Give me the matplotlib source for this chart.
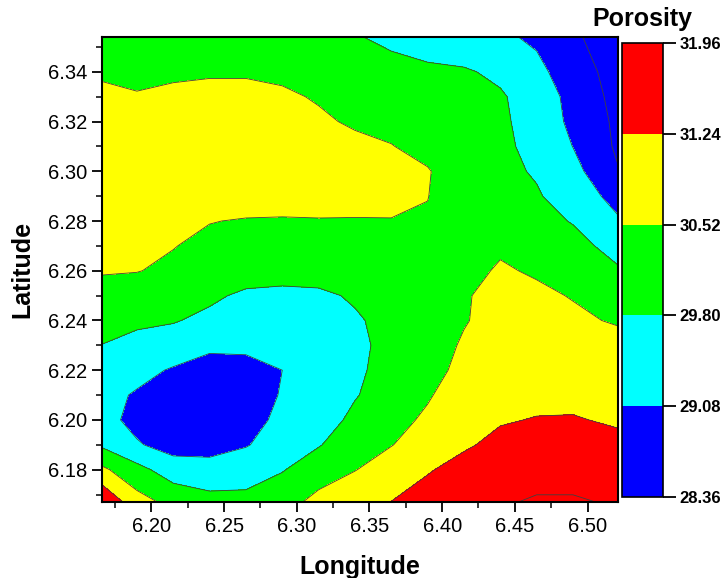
import numpy as np
import matplotlib
matplotlib.use("Agg")
from matplotlib import pyplot as plt
from matplotlib.colors import ListedColormap, BoundaryNorm
import matplotlib.cm as cm

plt.rcParams['font.family'] = ['Liberation Sans', 'DejaVu Sans']

# grid
lon = [6.166, 6.19, 6.215, 6.24, 6.265, 6.29, 6.315, 6.34, 6.365, 6.39, 6.415, 6.44, 6.465, 6.49, 6.521]
lat = [6.167, 6.18, 6.19, 6.20, 6.21, 6.22, 6.23, 6.24, 6.25, 6.26, 6.27, 6.28, 6.29, 6.30, 6.31, 6.32, 6.33, 6.34, 6.354]

# porosity values, one row per latitude (bottom to top)
porosity = [
    [31.90, 30.80, 30.30, 30.02, 30.02, 30.23, 30.74, 30.95, 31.25, 31.60, 31.82, 31.92, 32.00, 32.00, 31.92],
    [30.66, 30.02, 29.44, 29.37, 29.44, 29.76, 30.16, 30.50, 30.81, 31.17, 31.53, 31.74, 31.82, 31.82, 31.74],
    [29.69, 29.15, 28.79, 28.79, 29.04, 29.37, 29.76, 30.16, 30.50, 30.81, 31.13, 31.46, 31.60, 31.60, 31.46],
    [29.33, 28.86, 28.65, 28.68, 28.86, 29.22, 29.51, 29.94, 30.38, 30.59, 30.88, 31.17, 31.28, 31.30, 31.13],
    [29.30, 29.01, 28.72, 28.68, 28.79, 29.12, 29.37, 29.76, 30.09, 30.48, 30.74, 30.95, 31.02, 31.02, 30.95],
    [29.48, 29.30, 29.01, 28.79, 28.90, 29.08, 29.33, 29.69, 30.02, 30.34, 30.66, 30.88, 30.92, 30.88, 30.81],
    [29.79, 29.62, 29.51, 29.22, 29.19, 29.30, 29.37, 29.69, 29.94, 30.23, 30.59, 30.77, 30.81, 30.77, 30.66],
    [30.02, 29.91, 29.84, 29.66, 29.48, 29.44, 29.51, 29.73, 29.98, 30.16, 30.48, 30.74, 30.70, 30.59, 30.48],
    [30.33, 30.23, 30.12, 29.91, 29.69, 29.66, 29.69, 29.87, 30.09, 30.23, 30.48, 30.66, 30.59, 30.50, 30.12],
    [30.56, 30.54, 30.41, 30.23, 30.09, 30.02, 30.05, 30.16, 30.23, 30.30, 30.41, 30.56, 30.48, 30.30, 29.87],
    [30.63, 30.59, 30.54, 30.38, 30.30, 30.27, 30.27, 30.30, 30.34, 30.38, 30.41, 30.47, 30.34, 30.02, 29.56],
    [30.74, 30.74, 30.66, 30.54, 30.48, 30.47, 30.49, 30.49, 30.50, 30.48, 30.38, 30.27, 30.02, 29.76, 29.15],
    [30.88, 30.88, 30.88, 30.84, 30.81, 30.77, 30.74, 30.70, 30.66, 30.53, 30.23, 30.09, 29.87, 29.45, 28.86],
    [30.92, 30.95, 30.95, 30.92, 30.92, 30.88, 30.81, 30.74, 30.66, 30.56, 30.16, 29.98, 29.73, 29.30, 28.40],
    [30.88, 30.88, 30.92, 30.92, 30.92, 30.88, 30.74, 30.63, 30.54, 30.34, 30.09, 29.94, 29.61, 29.07, 28.25],
    [30.77, 30.74, 30.77, 30.81, 30.81, 30.77, 30.59, 30.46, 30.36, 30.20, 30.02, 29.91, 29.54, 28.92, 28.22],
    [30.63, 30.56, 30.61, 30.63, 30.63, 30.59, 30.48, 30.34, 30.17, 30.05, 29.94, 29.87, 29.50, 28.85, 28.14],
    [30.45, 30.38, 30.45, 30.48, 30.48, 30.43, 30.30, 30.09, 29.99, 29.91, 29.87, 29.67, 29.26, 28.71, 28.07],
    [30.20, 30.20, 30.23, 30.23, 30.23, 30.16, 30.02, 29.84, 29.67, 29.51, 29.35, 29.20, 28.96, 28.48, 27.93],
]

levels = [28.36, 29.08, 29.80, 30.52, 31.24, 31.96]
colors = ['#0000ff', '#00ffff', '#00ff00', '#ffff00', '#ff0000']

X, Y = np.meshgrid(lon, lat)
Z = np.array(porosity)

fig = plt.figure(figsize=(7.21, 5.78), dpi=100)
ax = fig.add_axes([0.1415, 0.1315, 0.7157, 0.8045])

# values outside the colour bar range keep the end colours
fill_levels = [Z.min() - 1] + levels + [Z.max() + 1]
fill_colors = [colors[0]] + colors + [colors[-1]]
ax.contourf(X, Y, Z, levels=fill_levels, colors=fill_colors)
ax.contour(X, Y, Z, levels=levels, colors='#404040', linewidths=0.6)

ax.set_xlim(6.166, 6.521)
ax.set_ylim(6.167, 6.354)
ax.set_xticks([6.20, 6.25, 6.30, 6.35, 6.40, 6.45, 6.50])
ax.set_xticks(np.arange(6.175, 6.52, 0.05), minor=True)
ax.set_yticks([6.18, 6.20, 6.22, 6.24, 6.26, 6.28, 6.30, 6.32, 6.34])
ax.set_yticks(np.arange(6.17, 6.355, 0.02), minor=True)
ax.xaxis.set_major_formatter(matplotlib.ticker.FormatStrFormatter('%.2f'))
ax.yaxis.set_major_formatter(matplotlib.ticker.FormatStrFormatter('%.2f'))
ax.tick_params(which='major', direction='out', length=7, width=1.3, labelsize=14.5)
ax.tick_params(which='minor', direction='out', length=4, width=1.1)
for s in ax.spines.values():
    s.set_linewidth(1.5)

ax.set_xlabel('Longitude', fontsize=18, fontweight='bold', labelpad=14)
ax.set_ylabel('Latitude', fontsize=18, fontweight='bold', labelpad=10)

# colour bar
cax = fig.add_axes([0.8627, 0.1401, 0.0569, 0.7855])
cmap = ListedColormap(colors)
norm = BoundaryNorm(levels, cmap.N)
sm = cm.ScalarMappable(norm=norm, cmap=cmap)
cb = fig.colorbar(sm, cax=cax, ticks=levels, format='%.2f')
cb.outline.set_linewidth(1.2)
cax.tick_params(length=9, width=1.3, labelsize=12, pad=3)
for lab in cax.get_yticklabels():
    lab.set_fontweight('bold')
fig.text(0.891, 0.967, 'Porosity', ha='center', va='center', fontsize=18, fontweight='bold')

fig.savefig('out.png', dpi=100)
